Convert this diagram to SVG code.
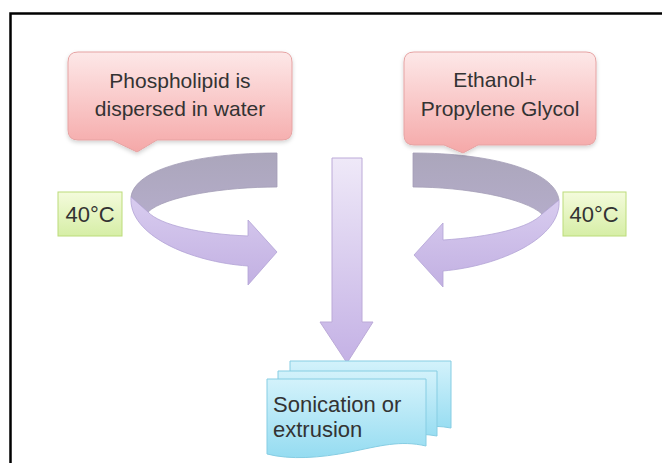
<svg xmlns="http://www.w3.org/2000/svg" width="662" height="463" viewBox="0 0 662 463">
<defs>
  <linearGradient id="pink" x1="0" y1="0" x2="0" y2="1">
    <stop offset="0" stop-color="#fde8e8"/>
    <stop offset="1" stop-color="#f5a8a8"/>
  </linearGradient>
  <linearGradient id="green" x1="0" y1="0" x2="0" y2="1">
    <stop offset="0" stop-color="#f4fbdc"/>
    <stop offset="1" stop-color="#d6eea6"/>
  </linearGradient>
  <linearGradient id="cyan" x1="0" y1="0" x2="0" y2="1">
    <stop offset="0" stop-color="#d3f2fb"/>
    <stop offset="1" stop-color="#95dcf1"/>
  </linearGradient>
  <linearGradient id="lav" x1="0" y1="0" x2="0" y2="1">
    <stop offset="0" stop-color="#efe9f8"/>
    <stop offset="1" stop-color="#c4b1e5"/>
  </linearGradient>
  <linearGradient id="front" x1="0" y1="0" x2="0" y2="1">
    <stop offset="0" stop-color="#d8ccef"/>
    <stop offset="1" stop-color="#c2b0e2"/>
  </linearGradient>
  <linearGradient id="back" x1="0" y1="0" x2="0" y2="1">
    <stop offset="0" stop-color="#aba6bb"/>
    <stop offset="1" stop-color="#b4acc9"/>
  </linearGradient>
  <filter id="sh" x="-10%" y="-10%" width="130%" height="140%">
    <feDropShadow dx="0" dy="2" stdDeviation="2" flood-color="#000" flood-opacity="0.18"/>
  </filter>
</defs>
<style>
  .t { font-family: "Liberation Sans", Arial, sans-serif; font-size: 21px; fill: #333; }
  .big { font-size: 22px; }
  .callout { fill: url(#pink); stroke: #e6a3a3; stroke-width: 1; filter: url(#sh); }
  .temp { fill: url(#green); stroke: #bcdc7a; stroke-width: 1; }
  .doc { fill: url(#cyan); stroke: #86cde3; stroke-width: 1; }
  .band-back { fill: url(#back); stroke: #a39db6; stroke-width: 0.8; }
  .band-front { fill: url(#front); stroke: #b3a3d6; stroke-width: 0.8; }
  .down { fill: url(#lav); stroke: #bcaad8; stroke-width: 1; }
</style>
<rect x="0" y="0" width="662" height="463" fill="#fff"/>
<rect id="frame" x="10.5" y="13.5" width="700" height="500" fill="none" stroke="#000" stroke-width="2.5"/>

<g id="connectors">
  <g id="left-arrow">
    <path class="band-back" d="M277,153 C200,153 135,168 131,197 L148,212 C165,196 225,187 277,187 Z"/>
    <path class="band-front" d="M131,197 C128,235 190,262 248,266 L248,285 L277,252 L248,220 L248,236 C200,234 160,225 148,212 Z"/>
  </g>
  <g id="right-arrow">
    <path class="band-back" d="M413,153 C490,153 555,170 559,200 L542,214 C525,198 465,187 413,187 Z"/>
    <path class="band-front" d="M559,200 C562,238 500,266 443,271 L443,287 L414,255 L443,223 L443,240 C490,237 530,228 542,214 Z"/>
  </g>
  <path id="down-arrow" class="down" d="M332,158 L362,158 L362,322 L373,322 L347,363 L320,322 L332,322 Z"/>
</g>

<g id="phospholipid">
  <path class="callout" d="M78,52 L282,52 Q292,52 292,62 L292,130 Q292,140 282,140 L157,140 L137,152 L112,140 L78,140 Q68,140 68,130 L68,62 Q68,52 78,52 Z"/>
  <text class="t" x="180" y="88" text-anchor="middle">Phospholipid is</text>
  <text class="t" x="180" y="116" text-anchor="middle">dispersed in water</text>
</g>

<g id="ethanol">
  <path class="callout" d="M414,52 L586,52 Q596,52 596,62 L596,135 Q596,145 586,145 L478,145 L463,153 L444,145 L414,145 Q404,145 404,135 L404,62 Q404,52 414,52 Z"/>
  <text class="t" x="495" y="87" text-anchor="middle">Ethanol+</text>
  <text class="t" x="500" y="116" text-anchor="middle">Propylene Glycol</text>
</g>

<g id="temp-left">
  <rect class="temp" x="58" y="192" width="64" height="44"/>
  <text class="t big" x="90" y="222" text-anchor="middle">40°C</text>
</g>

<g id="temp-right">
  <rect class="temp" x="563" y="192" width="63" height="44"/>
  <text class="t big" x="594" y="222" text-anchor="middle">40°C</text>
</g>

<g id="sonication">
  <path class="doc" d="M290,361 L451,361 L451,428 C430,424 415,428 400,432 L290,432 Z"/>
  <path class="doc" d="M278,371 L437,371 L437,436 C415,432 400,436 385,440 L278,440 Z"/>
  <path class="doc" d="M267,379 L426,379 L426,446 C400,440 380,446 350,452 C320,458 290,460 267,454 Z"/>
  <text class="t big" x="273" y="412">Sonication or</text>
  <text class="t big" x="273" y="437">extrusion</text>
</g>
</svg>
